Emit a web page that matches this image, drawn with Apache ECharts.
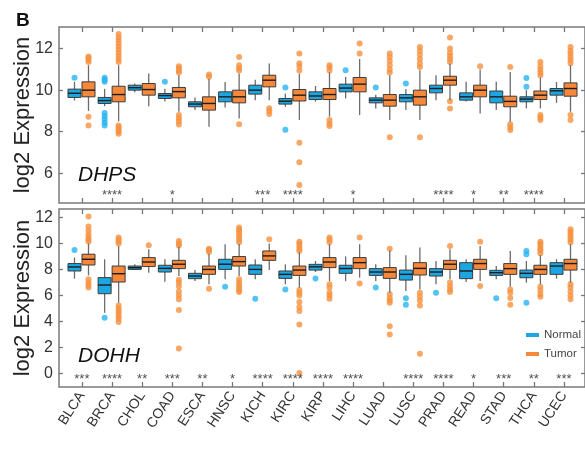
<!DOCTYPE html>
<html>
<head>
<meta charset="utf-8">
<script src="https://cdn.jsdelivr.net/npm/echarts@6/dist/echarts.min.js"></script>
<style>
html, body { margin: 0; padding: 0; background: #fff; }
#main { width: 585px; height: 449px; }
</style>
</head>
<body>
<div id="main"></div>
<script>
var categories = ['BLCA', 'BRCA', 'CHOL', 'COAD', 'ESCA', 'HNSC', 'KICH', 'KIRC', 'KIRP',
    'LIHC', 'LUAD', 'LUSC', 'PRAD', 'READ', 'STAD', 'THCA', 'UCEC'];

// boxes: [lower whisker, Q1, median, Q3, upper whisker]
var dhpsNormal = [
    [9.5, 9.65, 9.85, 10.05, 10.4], [9.23, 9.36, 9.5, 9.65, 10.06], [9.9, 10.0, 10.12, 10.24, 10.32],
    [9.45, 9.6, 9.74, 9.84, 10.07], [9.05, 9.2, 9.33, 9.44, 9.65], [9.17, 9.44, 9.68, 9.92, 10.39],
    [9.52, 9.81, 10.0, 10.24, 10.5], [9.2, 9.33, 9.47, 9.6, 9.84], [9.45, 9.55, 9.72, 9.92, 10.2],
    [9.6, 9.92, 10.1, 10.29, 10.64], [9.12, 9.39, 9.52, 9.63, 9.78], [9.04, 9.44, 9.63, 9.79, 10.06],
    [9.52, 9.87, 10.08, 10.24, 10.72], [9.45, 9.52, 9.68, 9.87, 10.4], [9.04, 9.39, 9.68, 9.96, 10.4],
    [9.12, 9.44, 9.57, 9.68, 10.0], [9.39, 9.76, 9.97, 10.08, 10.39]
];
var dhpsTumor = [
    [9.0, 9.68, 10.0, 10.4, 11.2], [8.5, 9.44, 9.79, 10.19, 11.2], [9.23, 9.76, 10.03, 10.32, 10.8],
    [8.96, 9.63, 9.93, 10.13, 10.72], [8.24, 9.04, 9.36, 9.68, 10.55], [8.64, 9.39, 9.68, 10.0, 10.8],
    [9.52, 10.16, 10.48, 10.72, 11.28], [8.56, 9.48, 9.76, 10.03, 10.8], [8.72, 9.55, 9.79, 10.08, 10.85],
    [8.8, 9.92, 10.29, 10.61, 11.5], [8.56, 9.23, 9.52, 9.79, 10.72], [8.56, 9.28, 9.68, 10.0, 10.96],
    [9.52, 10.24, 10.48, 10.67, 11.28], [8.88, 9.68, 10.0, 10.24, 11.0], [8.48, 9.2, 9.46, 9.71, 10.88],
    [9.12, 9.55, 9.76, 9.96, 10.6], [8.96, 9.71, 10.08, 10.35, 11.2]
];
var dhpsNormalOut = [
    [10.6], [10.6, 10.5, 10.4, 8.9, 8.75, 8.6, 8.45, 8.3], [], [10.4], [], [], [], [10.13, 8.1], [],
    [10.96], [10.13], [10.32], [], [], [], [10.59, 10.16], []
];
var dhpsTumorOut = [
    [11.35, 11.45, 11.55, 11.62, 8.72, 8.3],
    [11.35, 11.5, 11.65, 11.8, 11.95, 12.1, 12.25, 12.4, 12.55, 12.7, 8.3, 8.2, 8.1, 8.0, 7.9],
    [],
    [10.85, 10.95, 11.05, 11.15, 8.8, 8.65, 8.5, 8.35],
    [10.65, 10.75],
    [10.95, 11.05, 11.2, 11.6, 8.36],
    [9.13, 9.0, 8.85],
    [10.95, 11.15, 11.3, 11.76, 7.47, 6.53, 5.44],
    [10.95, 11.1, 11.2, 8.57, 8.4, 8.28],
    [11.76, 12.24],
    [10.85, 11.0, 11.2, 11.4, 11.6, 11.76, 7.73],
    [11.12, 11.3, 11.5, 11.7, 11.9, 12.08, 7.73],
    [11.36, 11.5, 11.65, 11.8, 12.0, 12.53, 9.47, 9.12],
    [11.15],
    [11.12, 8.36, 8.22, 8.08],
    [10.72, 10.85, 11.0, 11.15, 11.36, 8.8, 8.68, 8.57],
    [11.3, 11.45, 11.6, 11.75, 11.9, 12.08, 8.8, 8.56]
];
var dhpsStars = ['', '****', '', '*', '', '', '***', '****', '', '*', '', '', '****', '*', '**', '****', ''];

var dohhNormal = [
    [7.29, 7.88, 8.19, 8.45, 8.91], [4.66, 6.13, 6.8, 7.37, 8.78], [7.95, 8.0, 8.13, 8.26, 8.39],
    [7.05, 7.8, 8.08, 8.32, 8.78], [7.1, 7.29, 7.49, 7.7, 7.96], [7.24, 8.0, 8.4, 8.78, 9.94],
    [7.24, 7.62, 8.0, 8.34, 8.78], [6.85, 7.31, 7.62, 7.88, 8.39], [7.8, 7.95, 8.2, 8.39, 8.65],
    [7.1, 7.7, 8.07, 8.32, 9.0], [7.1, 7.54, 7.8, 8.06, 8.39], [6.33, 7.18, 7.62, 7.95, 9.09],
    [6.85, 7.49, 7.8, 8.06, 8.65], [7.03, 7.29, 7.88, 8.52, 8.78], [7.24, 7.54, 7.75, 7.93, 8.26],
    [6.98, 7.36, 7.7, 7.95, 8.65], [7.29, 7.62, 8.26, 8.52, 8.78]
];
var dohhTumor = [
    [7.54, 8.34, 8.78, 9.17, 10.0], [5.44, 7.03, 7.67, 8.26, 9.8], [7.75, 8.22, 8.57, 8.91, 9.55],
    [7.49, 8.06, 8.4, 8.7, 9.75], [6.85, 7.62, 8.0, 8.26, 9.2], [7.49, 8.26, 8.6, 8.99, 9.95],
    [7.96, 8.7, 9.04, 9.42, 10.0], [6.6, 7.54, 7.95, 8.26, 9.3], [7.1, 8.14, 8.57, 8.91, 9.94],
    [7.36, 8.06, 8.52, 8.91, 9.94], [6.2, 7.31, 7.8, 8.14, 9.45], [6.46, 7.57, 8.08, 8.52, 9.68],
    [7.24, 8.0, 8.4, 8.7, 9.55], [7.1, 8.0, 8.45, 8.78, 9.81], [6.67, 7.62, 8.06, 8.45, 9.42],
    [6.85, 7.62, 8.0, 8.32, 9.1], [6.98, 7.95, 8.45, 8.78, 9.94]
];
var dohhNormalOut = [
    [9.5], [4.28], [], [], [], [6.67], [5.74], [6.46], [7.31], [], [6.6], [5.79, 5.28], [6.2], [],
    [5.79], [9.42, 9.17, 5.44], []
];
var dohhTumorOut = [
    [10.15, 10.3, 10.5, 10.7, 11.0, 11.3, 12.07, 7.24, 7.0, 6.8, 6.6],
    [10.0, 10.15, 10.3, 10.45, 5.23, 5.0, 4.8, 4.6, 4.4, 4.2, 3.95],
    [9.86],
    [9.85, 10.0, 10.19, 7.2, 7.0, 6.7, 6.3, 6.0, 5.7, 4.87, 1.91],
    [9.35, 9.5, 9.6, 6.52],
    [10.1, 10.3, 10.5, 10.7, 10.9, 11.05, 11.23, 7.24, 7.0, 6.8, 6.6, 6.4, 6.27],
    [10.32],
    [9.42, 9.6, 9.8, 10.0, 10.12, 6.41, 6.2, 6.0, 5.5, 5.1, 4.79, 3.76, 0.03],
    [10.1, 10.3, 10.45, 6.85, 6.6, 6.2, 6.0, 5.74],
    [10.45, 6.92],
    [9.6, 6.08, 5.8, 5.6, 5.44, 3.63, 2.99],
    [6.2, 5.9, 5.6, 5.23, 1.5],
    [9.81, 7.0, 6.7, 6.45, 6.26],
    [10.12, 6.72],
    [6.46, 6.2, 5.8, 5.28],
    [9.25, 9.45, 9.6, 9.8, 10.0, 10.12, 6.67, 6.4, 6.1, 5.9],
    [10.1, 10.3, 10.5, 10.7, 10.9, 11.1, 6.85, 6.6, 6.3, 6.0, 5.7]
];
var dohhStars = ['***', '****', '**', '***', '**', '*', '****', '****', '****', '****', '', '****',
    '****', '*', '***', '**', '***'];

var yTicksTop = [6, 8, 10, 12];
var yTicksBottom = [0, 2, 4, 6, 8, 10, 12];

var BLUE = '#1ba6e2', ORANGE = '#f5883a';
var BLUE_PT = '#27b4ef', ORANGE_PT = '#f6913f';
var BOX_W = 13, SHIFT_N = -7.4, SHIFT_T = 6.6;
var FONT = 'Liberation Sans, Arial, sans-serif';
var xTicks = categories.map(function (c, i) { return i; });

var boxRender = function (shift, fill) {
    return function (params, api) {
        var i = api.value(0);
        var lo = api.coord([i, api.value(1)]),
            q1 = api.coord([i, api.value(2)]),
            md = api.coord([i, api.value(3)]),
            q3 = api.coord([i, api.value(4)]),
            hi = api.coord([i, api.value(5)]);
        var x = lo[0] + shift, half = BOX_W / 2;
        return {
            type: 'group',
            children: [
                { type: 'line', shape: { x1: x, y1: hi[1], x2: x, y2: lo[1] }, style: { stroke: '#6b6b6b', lineWidth: 1.3 } },
                { type: 'rect', shape: { x: x - half, y: q3[1], width: BOX_W, height: q1[1] - q3[1] }, style: { fill: fill, stroke: '#3c3c3c', lineWidth: 1 } },
                { type: 'line', shape: { x1: x - half, y1: md[1], x2: x + half, y2: md[1] }, style: { stroke: '#1c1c1c', lineWidth: 1.4 } }
            ]
        };
    };
}

var boxData = function (boxes) {
    return boxes.map(function (b, i) { return [i].concat(b); });
}
var outData = function (outs) {
    var res = [];
    outs.forEach(function (vals, i) {
        vals.forEach(function (v) { res.push([i, v]); });
    });
    return res;
}

var panels = [
    { normal: dhpsNormal, tumor: dhpsTumor, nOut: dhpsNormalOut, tOut: dhpsTumorOut, stars: dhpsStars, ymin: 4.57, ymax: 13.04, ticks: yTicksTop },
    { normal: dohhNormal, tumor: dohhTumor, nOut: dohhNormalOut, tOut: dohhTumorOut, stars: dohhStars, ymin: -1.05, ymax: 12.65, ticks: yTicksBottom }
];

var grid = [], xAxis = [], yAxis = [], series = [];
panels.forEach(function (p, k) {
    grid.push({
        left: 59, right: -3, top: k === 0 ? 27 : 209, height: k === 0 ? 176 : 178,
        show: true, borderColor: '#7a7a7a', borderWidth: 1.5, backgroundColor: 'transparent'
    });
});
// bottom x axes (0,1), top x axes (2,3)
[0, 1, 0, 1].forEach(function (g, n) {
    xAxis.push({
        type: 'value', gridIndex: g, position: n < 2 ? 'bottom' : 'top',
        min: -0.76, max: 16.7,
        axisLine: { show: false, onZero: false },
        splitLine: { show: false },
        axisTick: { show: true, inside: true, length: 5, customValues: xTicks, lineStyle: { color: '#777', width: 1.3 } },
        axisLabel: {
            show: n === 1, customValues: xTicks, rotate: 57, margin: 6,
            color: '#333', fontSize: 14, fontFamily: FONT,
            formatter: function (v) { return categories[Math.round(v)]; }
        }
    });
});
[0, 1, 0, 1].forEach(function (g, n) {
    var p = panels[g];
    yAxis.push({
        type: 'value', gridIndex: g, position: n < 2 ? 'left' : 'right',
        min: p.ymin, max: p.ymax,
        name: n < 2 ? 'log2 Expression' : '',
        nameLocation: 'middle', nameGap: 25, nameMoveOverlap: false,
        nameTextStyle: { color: '#222', fontSize: 22, fontFamily: FONT },
        axisLine: { show: false, onZero: false },
        splitLine: { show: false },
        axisTick: { show: true, inside: true, length: 4, customValues: p.ticks, lineStyle: { color: '#777', width: 1.3 } },
        axisLabel: { show: n < 2, customValues: p.ticks, margin: 6, color: '#333', fontSize: 16, fontFamily: FONT }
    });
});

panels.forEach(function (p, k) {
    series.push({
        name: 'Normal', type: 'custom', xAxisIndex: k, yAxisIndex: k,
        itemStyle: { color: BLUE }, renderItem: boxRender(SHIFT_N, BLUE),
        encode: { x: 0, y: [1, 2, 3, 4, 5] }, data: boxData(p.normal), z: 3
    });
    series.push({
        name: 'Tumor', type: 'custom', xAxisIndex: k, yAxisIndex: k,
        itemStyle: { color: ORANGE }, renderItem: boxRender(SHIFT_T, ORANGE),
        encode: { x: 0, y: [1, 2, 3, 4, 5] }, data: boxData(p.tumor), z: 3
    });
    series.push({
        name: 'normal-outliers', type: 'scatter', xAxisIndex: k, yAxisIndex: k,
        symbolSize: 6, symbolOffset: [SHIFT_N, 0], itemStyle: { color: BLUE_PT },
        data: outData(p.nOut), z: 2, silent: true
    });
    series.push({
        name: 'tumor-outliers', type: 'scatter', xAxisIndex: k, yAxisIndex: k,
        symbolSize: 6, symbolOffset: [SHIFT_T, 0], itemStyle: { color: ORANGE_PT },
        data: outData(p.tOut), z: 2, silent: true
    });
    series.push({
        name: 'stars', type: 'scatter', xAxisIndex: k, yAxisIndex: k,
        symbolSize: 0, silent: true,
        data: p.stars.map(function (s, i) { return [i, p.ymin]; }),
        label: {
            show: true, position: 'top', distance: 1,
            color: '#222', fontSize: 13, fontFamily: FONT,
            formatter: function (params) { return p.stars[params.dataIndex]; }
        }
    });
});

var option = {
    animation: false,
    backgroundColor: '#fff',
    title: [
        { text: 'B', left: 11, top: 6, textStyle: { fontSize: 19, fontWeight: 'bold', color: '#111', fontFamily: FONT } },
        { text: 'DHPS', left: 73, top: 160, textStyle: { fontSize: 21, fontStyle: 'italic', fontWeight: 'normal', color: '#111', fontFamily: FONT } },
        { text: 'DOHH', left: 73, top: 341, textStyle: { fontSize: 21, fontStyle: 'italic', fontWeight: 'normal', color: '#111', fontFamily: FONT } }
    ],
    legend: {
        data: ['Normal', 'Tumor'], orient: 'vertical', left: 521, top: 324,
        icon: 'rect', itemWidth: 13, itemHeight: 4, itemGap: 7,
        textStyle: { fontSize: 11.5, color: '#444', fontFamily: FONT }
    },
    grid: grid,
    xAxis: xAxis,
    yAxis: yAxis,
    series: series
};

var myChart = echarts.init(document.getElementById('main'));
myChart.setOption(option);
</script>
</body>
</html>
